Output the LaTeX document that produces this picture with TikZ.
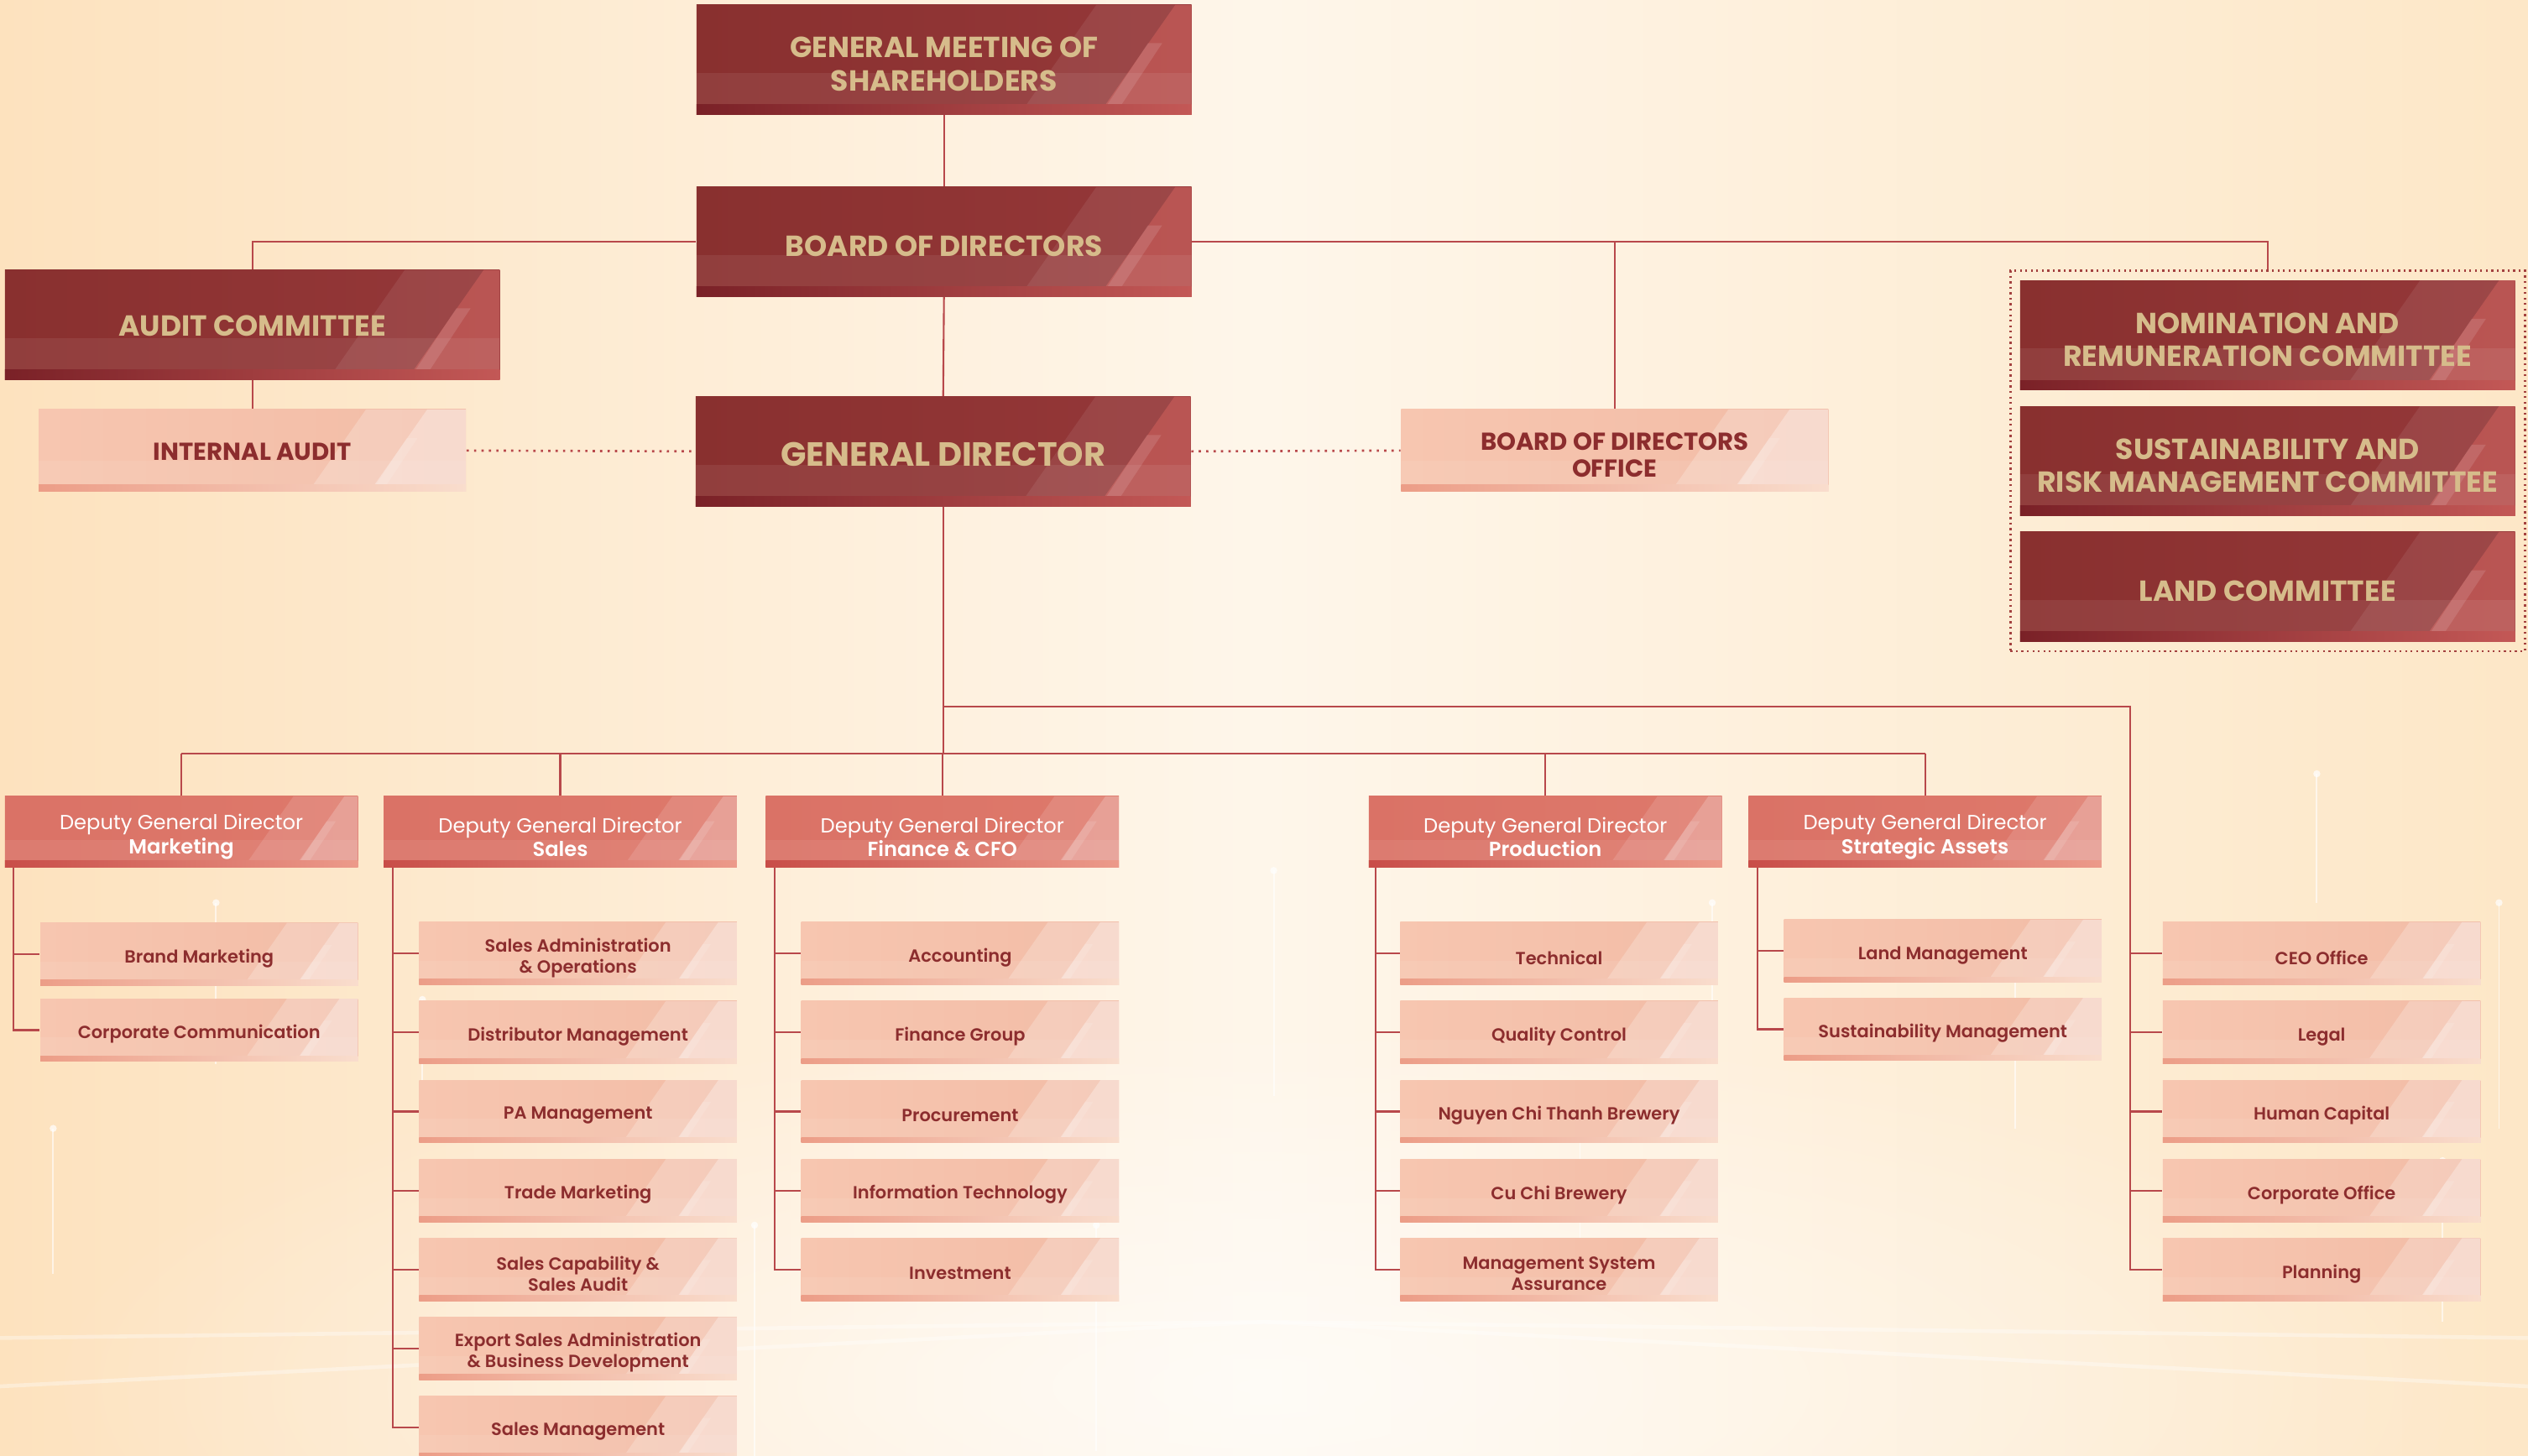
\documentclass[tikz,border=0pt]{standalone}
\usepackage{fontspec}
\setmainfont{Poppins}
\newfontfamily\fmed{Poppins}[UprightFont=* Medium,BoldFont=* SemiBold]
\usetikzlibrary{calc,fadings}
\tikzfading[name=myglow, inner color=transparent!0, outer color=transparent!100]
\definecolor{bgL}{HTML}{FDE2BE}
\definecolor{bgM}{HTML}{FEF6EA}
\definecolor{bgR}{HTML}{FDE7C7}
\definecolor{dkA}{HTML}{89302F}
\definecolor{dkB}{HTML}{953839}
\definecolor{dkS}{HTML}{C65B58}
\definecolor{dkBand1}{HTML}{7A2127}
\definecolor{dkBand2}{HTML}{C35856}
\definecolor{gold}{HTML}{D6BC8B}
\definecolor{ltA}{HTML}{F7C6B0}
\definecolor{ltB}{HTML}{F2BCA6}
\definecolor{ltBand1}{HTML}{EC9D87}
\definecolor{ltBand2}{HTML}{F9DDCD}
\definecolor{dpA}{HTML}{DA7266}
\definecolor{dpB}{HTML}{DE796B}
\definecolor{dpBand1}{HTML}{C84D48}
\definecolor{dpBand2}{HTML}{EC9A8A}
\definecolor{txtred}{HTML}{8C2D2E}
\definecolor{lineC}{HTML}{B8484B}
\definecolor{frameC}{HTML}{A3403F}
% #1 height(pt) #2 diag1 offset #3 diag2 offset #4/#5 region A colour/opacity #6/#7 region B #8/#9 bottom band
\newcommand\deco[9]{%
  \path (path picture bounding box.north east) coordinate (pne)
        (path picture bounding box.south east) coordinate (pse)
        (path picture bounding box.south west) coordinate (psw);
  \fill[#4,opacity=#5] ($(pne)+(-#2pt,0pt)$) -- (pne) -- (pse) -- ($(pse)+(-#2pt-0.7*#1pt,0pt)$) -- cycle;
  \fill[#6,opacity=#7] ($(pne)+(-#3pt,0pt)$) -- (pne) -- (pse) -- ($(pse)+(-#3pt-0.7*#1pt,0pt)$) -- cycle;
  \fill[white,opacity=0.12] ($(pne)+(-#3pt-0.25*#1pt,-0.35*#1pt)$) -- ($(pne)+(-#3pt-0.12*#1pt,-0.35*#1pt)$) -- ($(pse)+(-#3pt-0.55*#1pt,0pt)$) -- ($(pse)+(-#3pt-0.68*#1pt,0pt)$) -- cycle;
  \fill[white,opacity=0.07] ($(psw)+(0pt,0.38*#1pt)$) rectangle ($(pse)+(0pt,0.09*#1pt)$);
  \shade[left color=#8,right color=#9] (psw) rectangle ($(pse)+(0pt,0.09*#1pt)$);
}
\tikzset{
  base/.style={inner sep=0pt},
  tbase/.style={inner sep=0pt,align=center},
  dtxt/.style={tbase,text=gold,font=\fontsize{9}{10.3}\selectfont\bfseries,yshift=-1.4pt},
  darkshape/.style={base,minimum width=153.5pt,minimum height=34pt,left color=dkA,right color=dkB,
     path picture={\deco{34}{29.5}{5}{white}{0.08}{dkS}{0.7}{dkBand1}{dkBand2}}},
  darkbox/.style={darkshape,label={[dtxt]center:#1}},
  auditbox/.style={darkshape,label={[dtxt,yshift=1pt]center:#1}},
  gdbox/.style={darkshape,label={[dtxt,yshift=0.4pt,font=\fontsize{10.4}{12}\selectfont\bfseries]center:#1}},
  midbox/.style={base,minimum width=132.5pt,minimum height=25.5pt,left color=ltA,right color=ltB,
     path picture={\deco{25.5}{31}{12}{white}{0.22}{white}{0.3}{ltBand1}{ltBand2}},
     label={[tbase,text=txtred,font=\fontsize{7.6}{8.5}\selectfont\bfseries,yshift=-0.5pt]center:#1}},
  bodobox/.style={midbox={},label={[tbase,text=txtred,font=\fontsize{7.6}{8.5}\selectfont\bfseries,yshift=-1.4pt]center:#1}},
  depbox/.style={base,minimum width=109.5pt,minimum height=22pt,left color=dpA,right color=dpB,
     path picture={\deco{22}{20}{4.2}{white}{0.12}{white}{0.2}{dpBand1}{dpBand2}},
     label={[tbase,text=white,font=\fontsize{6.3}{7.5}\selectfont,yshift=-1.6pt]center:#1}},
  subbox/.style={base,minimum width=98.5pt,minimum height=19.5pt,left color=ltA,right color=ltB,
     path picture={\deco{19.5}{22}{5.7}{white}{0.22}{white}{0.3}{ltBand1}{ltBand2}},
     label={[tbase,text=txtred,font=\fontsize{5.45}{6.5}\selectfont\fmed\bfseries,yshift=-1.3pt]center:#1}},
  conn/.style={draw=lineC,line width=0.55pt},
  dotc/.style={draw=lineC,line width=0.7pt,dash pattern=on 0.7pt off 1.6pt},
  framebox/.style={draw=frameC,line width=0.7pt,dash pattern=on 0.6pt off 1.1pt,inner sep=0pt},
  ray/.style={white,line width=0.5pt,opacity=0.6}
}
\begin{document}
\begin{tikzpicture}[x=0.5pt,y=-0.5pt]
\useasboundingbox (0,0) rectangle (1568,903);
\shade[left color=bgL,right color=bgR,middle color=bgM] (0,0) rectangle (1568,903);
\fill[white,opacity=0.6,path fading=myglow] (780,860) ellipse (760 and 230);
% faint background rays
\foreach \xx/\ya/\yb in {33/700/790,134/560/660,262/620/700,468/760/903,680/760/900,790/540/680,1062/560/640,1250/600/700,1437/480/560,1515/720/820,1550/560/700,980/700/770}{
  \draw[ray] (\xx,\ya) -- (\xx,\yb);
  \fill[white,opacity=0.7] (\xx,\ya) circle (2.2);
}
\foreach \sa/\sb in {0/830,0/860,1568/830,1568/860}{
  \draw[white,line width=1.2pt,opacity=0.35] (\sa,\sb) -- (784,820);
}

% top level
\node[darkbox={GENERAL MEETING OF\\SHAREHOLDERS}] (gms) at (585.5,37) {};
\node[darkbox={BOARD OF DIRECTORS}] (bod) at (585.5,150) {};
\node[auditbox={AUDIT COMMITTEE}] (audit) at (156.5,201.5) {};
\node[midbox={INTERNAL AUDIT}] (ia) at (156.5,279.5) {};
\node[gdbox={GENERAL DIRECTOR}] (gd) at (585,280) {};
\node[bodobox={BOARD OF DIRECTORS\\OFFICE}] (bodo) at (1001.5,279.5) {};
\node[framebox,minimum width=159.5pt,minimum height=118pt] (frame) at (1406.5,286) {};
\node[darkbox={NOMINATION AND\\REMUNERATION COMMITTEE}] (nrc) at (1406.5,208) {};
\node[darkbox={SUSTAINABILITY AND\\RISK MANAGEMENT COMMITTEE}] (srmc) at (1406.5,286) {};
\node[darkbox={LAND COMMITTEE}] (land) at (1406.5,364) {};

% deputies
\node[depbox={Deputy General Director\\{\fmed\bfseries Marketing}}] (dm) at (112.5,516) {};
\node[depbox={Deputy General Director\\{\fmed\bfseries Sales}}] (ds) at (347.5,516) {};
\node[depbox={Deputy General Director\\{\fmed\bfseries Finance \& CFO}}] (df) at (584.5,516) {};
\node[depbox={Deputy General Director\\{\fmed\bfseries Production}}] (dp) at (958.5,516) {};
\node[depbox={Deputy General Director\\{\fmed\bfseries Strategic Assets}}] (dsa) at (1194,516) {};

% marketing
\node[subbox={Brand Marketing}] (bm) at (123.5,592) {};
\node[subbox={Corporate Communication}] (cc) at (123.5,639) {};
% sales
\node[subbox={Sales Administration\\\& Operations}] (s1) at (358.5,591.5) {};
\node[subbox={Distributor Management}] (s2) at (358.5,640.5) {};
\node[subbox={PA Management}] (s3) at (358.5,689.5) {};
\node[subbox={Trade Marketing}] (s4) at (358.5,738.5) {};
\node[subbox={Sales Capability \&\\Sales Audit}] (s5) at (358.5,787.5) {};
\node[subbox={Export Sales Administration\\\& Business Development}] (s6) at (358.5,836.5) {};
\node[subbox={Sales Management}] (s7) at (358.5,885.5) {};
% finance
\node[subbox={Accounting}] (f1) at (595.5,591.5) {};
\node[subbox={Finance Group}] (f2) at (595.5,640.5) {};
\node[subbox={Procurement}] (f3) at (595.5,689.5) {};
\node[subbox={Information Technology}] (f4) at (595.5,738.5) {};
\node[subbox={Investment}] (f5) at (595.5,787.5) {};
% production
\node[subbox={Technical}] (p1) at (967,591.5) {};
\node[subbox={Quality Control}] (p2) at (967,640.5) {};
\node[subbox={Nguyen Chi Thanh Brewery}] (p3) at (967,689.5) {};
\node[subbox={Cu Chi Brewery}] (p4) at (967,738.5) {};
\node[subbox={Management System\\Assurance}] (p5) at (967,787.5) {};
% strategic assets
\node[subbox={Land Management}] (a1) at (1205,590) {};
\node[subbox={Sustainability Management}] (a2) at (1205,638.5) {};
% general director offices
\node[subbox={CEO Office}] (r1) at (1440,591.5) {};
\node[subbox={Legal}] (r2) at (1440,640.5) {};
\node[subbox={Human Capital}] (r3) at (1440,689.5) {};
\node[subbox={Corporate Office}] (r4) at (1440,738.5) {};
\node[subbox={Planning}] (r5) at (1440,787.5) {};

% connectors
\draw[conn] (gms.south) -- (bod.north);
\draw[conn] (bod.west) -| (audit.north);
\draw[conn] (bod.east) -| (bodo.north);
\draw[conn] (bod.east) -| (frame.north);
\draw[conn] (audit.south) -- (ia.north);
\draw[conn] (bod.south) -- (gd.north);
\draw[dotc] (ia.east) -- (gd.west);
\draw[dotc] (gd.east) -- (bodo.west);

\path (gd.south) ++(0,153) coordinate (busA) ++(0,-29) coordinate (busB);
\path (busB) ++(736,0) coordinate (rsp);
\draw[conn] (gd.south) -- (busA);
\draw[conn] (dm.north |- busA) -- (dsa.north |- busA);
\foreach \d in {dm,ds,df,dp,dsa} \draw[conn] (\d.north |- busA) -- (\d.north);
\draw[conn] (busB) -- (rsp) |- (r5.west);
\foreach \r in {r1,r2,r3,r4} \draw[conn] (rsp |- \r.west) -- (\r.west);

\path ([xshift=2.75pt]dm.south west) coordinate (msp);
\draw[conn] (msp) |- (cc.west);
\draw[conn] (msp |- bm.west) -- (bm.west);

\path ([xshift=3pt]ds.south west) coordinate (ssp);
\draw[conn] (ssp) |- (s7.west);
\foreach \s in {s1,s2,s3,s4,s5,s6} \draw[conn] (ssp |- \s.west) -- (\s.west);

\path ([xshift=3pt]df.south west) coordinate (fsp);
\draw[conn] (fsp) |- (f5.west);
\foreach \s in {f1,f2,f3,f4} \draw[conn] (fsp |- \s.west) -- (\s.west);

\path ([xshift=2.25pt]dp.south west) coordinate (psp);
\draw[conn] (psp) |- (p5.west);
\foreach \s in {p1,p2,p3,p4} \draw[conn] (psp |- \s.west) -- (\s.west);

\path ([xshift=3pt]dsa.south west) coordinate (asp);
\draw[conn] (asp) |- (a2.west);
\draw[conn] (asp |- a1.west) -- (a1.west);
\end{tikzpicture}
\end{document}
